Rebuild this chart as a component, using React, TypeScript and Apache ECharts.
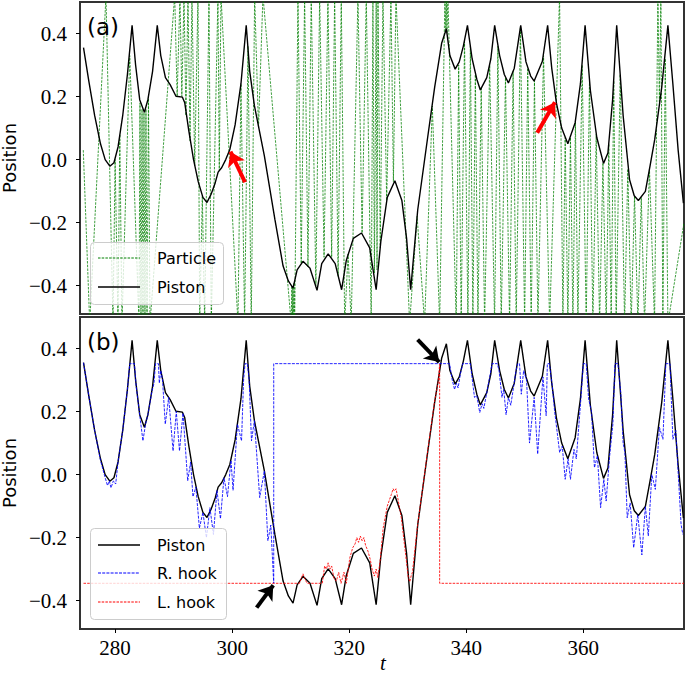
import React, { useEffect, useRef } from "react";
import * as echarts from "echarts";

const tTicks = [280, 300, 320, 340, 360];
const posTicks = [-0.4, -0.2, 0, 0.2, 0.4];
const T = 0.52;
const B = -0.52;

const piston: [number, number][] = [
  [274.6, 0.355], [275.5, 0.25], [276.5, 0.14], [277.5, 0.05], [278.3, 0.0], [279.1, -0.021],
  [279.8, -0.01], [280.5, 0.04], [281.3, 0.14], [282.1, 0.27], [282.9, 0.426], [283.5, 0.3],
  [284.2, 0.19], [285.0, 0.15], [285.6, 0.19], [286.4, 0.28], [287.2, 0.426], [287.8, 0.33],
  [288.6, 0.26], [289.4, 0.238], [290.4, 0.201], [291.5, 0.198], [291.9, 0.18], [292.6, 0.09],
  [293.4, 0.0], [294.2, -0.07], [295.0, -0.12], [295.7, -0.136], [296.4, -0.11], [297.1, -0.074],
  [297.6, -0.04], [298.2, -0.026], [298.9, 0.0], [299.6, 0.032], [300.5, 0.11], [301.5, 0.24],
  [302.4, 0.426], [303.0, 0.28], [303.8, 0.171], [305.5, 0.012], [307.3, -0.19], [308.7, -0.338],
  [309.6, -0.385], [310.4, -0.408], [311.1, -0.35], [312.1, -0.323], [313.3, -0.345], [314.5, -0.415],
  [315.3, -0.33], [316.4, -0.299], [317.6, -0.33], [318.7, -0.413], [319.5, -0.32], [320.7, -0.25],
  [322.1, -0.233], [323.5, -0.28], [324.6, -0.413], [325.4, -0.26], [326.5, -0.12], [327.8, -0.067],
  [329.0, -0.13], [329.8, -0.25], [330.5, -0.413], [331.7, -0.16], [333.4, 0.07], [334.6, 0.23],
  [335.2, 0.3], [335.8, 0.37], [336.6, 0.415], [337.2, 0.33], [338.1, 0.287], [338.8, 0.31],
  [339.5, 0.36], [340.2, 0.426], [341.0, 0.32], [341.8, 0.255], [342.4, 0.221], [343.5, 0.26],
  [344.2, 0.32], [344.85, 0.426], [345.7, 0.33], [346.5, 0.27], [347.2, 0.243], [348.2, 0.29],
  [349.3, 0.426], [350.2, 0.31], [351.0, 0.265], [351.6, 0.249], [353.0, 0.312], [353.9, 0.426],
  [354.6, 0.29], [355.4, 0.18], [356.3, 0.1], [357.35, 0.05], [358.6, 0.117], [359.5, 0.24],
  [360.3, 0.426], [361.2, 0.22], [362.3, 0.07], [363.45, -0.012], [364.2, 0.021], [365.0, 0.19],
  [365.7, 0.426], [366.8, 0.14], [367.9, -0.064], [368.7, -0.115], [369.4, -0.13], [370.6, -0.101],
  [371.4, -0.02], [372.2, 0.064], [373.4, 0.23], [374.45, 0.426], [375.3, 0.24], [376.2, 0.03],
  [377.1, -0.138],
];

const rHook: [number, number][] = [
  [274.6, 0.355], [275.5, 0.25], [276.5, 0.14], [277.5, 0.045], [278.3, -0.01], [278.7, -0.035],
  [279.0, -0.02], [279.3, -0.042], [279.7, -0.02], [280.1, -0.03], [280.5, 0.04], [281.3, 0.14],
  [282.1, 0.27], [282.5, 0.352], [283.3, 0.352], [283.6, 0.28], [284.2, 0.19], [284.75, 0.107],
  [285.2, 0.16], [285.6, 0.19], [286.3, 0.265], [286.65, 0.29], [286.9, 0.352], [287.4, 0.352],
  [287.55, 0.29], [287.8, 0.33], [288.1, 0.3], [288.57, 0.16], [289.15, 0.245], [289.9, 0.075],
  [290.45, 0.2], [291.0, 0.075], [291.6, 0.195], [292.4, -0.02], [292.9, 0.04], [293.3, -0.07],
  [293.8, -0.04], [294.4, -0.17], [295.0, -0.12], [295.6, -0.2], [296.2, -0.105], [296.8, -0.19],
  [297.4, -0.05], [298.0, -0.14], [298.6, -0.01], [299.2, -0.07], [299.8, 0.045], [300.15, -0.05],
  [300.9, 0.16], [301.6, 0.107], [301.95, 0.3], [302.2, 0.352], [302.6, 0.352], [302.9, 0.3],
  [303.3, 0.107], [303.8, 0.171], [304.7, -0.073], [305.5, 0.012], [306.1, -0.21], [306.6, -0.16],
  [307.1, -0.345], [307.1, 0.352], [335.45, 0.352], [337.15, 0.352], [337.6, 0.3], [338.0, 0.27],
  [338.3, 0.29], [338.6, 0.275], [339.0, 0.32], [339.4, 0.352], [340.7, 0.352], [341.4, 0.245],
  [341.8, 0.25], [342.3, 0.197], [342.7, 0.225], [343.0, 0.21], [343.6, 0.27], [344.1, 0.32],
  [344.4, 0.352], [345.3, 0.352], [345.6, 0.33], [346.1, 0.245], [346.4, 0.27], [346.8, 0.19],
  [347.2, 0.244], [347.6, 0.22], [348.1, 0.28], [348.5, 0.33], [348.8, 0.352], [349.1, 0.352],
  [349.4, 0.255], [349.8, 0.33], [350.3, 0.3], [350.8, 0.1], [351.6, 0.245], [352.2, 0.065],
  [353.1, 0.31], [353.65, 0.187], [353.85, 0.352], [354.2, 0.352], [354.7, 0.28], [355.1, 0.2],
  [355.95, 0.07], [356.4, 0.09], [356.9, -0.015], [357.4, 0.05], [357.8, -0.015], [358.4, 0.08],
  [358.8, 0.05], [359.6, 0.245], [360.0, 0.352], [360.5, 0.352], [360.9, 0.24], [361.4, 0.2],
  [361.9, 0.022], [362.4, 0.06], [362.95, -0.105], [363.5, -0.015], [363.9, -0.084], [364.5, 0.06],
  [365.05, 0.16], [365.4, 0.352], [365.9, 0.352], [366.4, 0.26], [366.8, 0.1], [367.1, 0.07],
  [367.5, -0.137], [368.0, -0.09], [368.6, -0.232], [369.3, -0.127], [370.0, -0.255], [370.6, -0.101],
  [371.1, -0.195], [371.7, 0.0], [372.3, -0.047], [373.0, 0.15], [373.6, 0.112], [374.1, 0.352],
  [374.8, 0.352], [375.3, 0.112], [375.8, 0.14], [376.7, -0.158], [377.0, -0.19],
];

const lHook: [number, number][] = [
  [274.6, -0.345], [311.5, -0.345], [311.8, -0.33], [312.1, -0.315], [312.4, -0.33], [312.8, -0.345],
  [315.4, -0.345], [315.8, -0.29], [316.1, -0.3], [316.4, -0.28], [316.7, -0.3], [317.0, -0.29],
  [317.4, -0.33], [317.8, -0.338], [318.2, -0.31], [318.6, -0.345], [319.1, -0.31], [319.5, -0.345],
  [320.1, -0.264], [320.6, -0.232], [321.0, -0.22], [321.3, -0.2], [321.6, -0.215], [321.9, -0.195],
  [322.2, -0.21], [322.5, -0.2], [322.8, -0.225], [323.2, -0.243], [323.6, -0.27], [323.9, -0.3],
  [324.3, -0.322], [324.6, -0.3], [324.9, -0.327], [325.3, -0.27], [325.8, -0.17], [326.5, -0.1],
  [327.2, -0.063], [327.5, -0.045], [327.7, -0.052], [328.0, -0.045], [328.3, -0.075], [328.9, -0.137],
  [329.5, -0.232], [330.1, -0.327], [330.35, -0.34], [330.6, -0.32], [330.8, -0.31], [331.7, -0.158],
  [332.5, -0.05], [333.4, 0.075], [334.6, 0.234], [335.2, 0.293], [335.45, 0.35], [335.45, -0.345],
  [377.2, -0.345],
];

const particle: [number, number][] = [
  [274.56, 0.03], [275.66, B], [278.44, T], [279.64, B], [280.0, 0.0], [280.49, B], [280.8, 0.08],
  [281.17, B], [282.5, 0.33], [284.08, B], [284.25, 0.18], [284.42, B], [284.6, 0.16], [284.76, B],
  [284.93, 0.15], [285.1, B], [285.27, 0.16], [285.45, B], [285.7, 0.2], [285.96, B], [290.18, T],
  [290.6, 0.2], [291.08, T], [291.4, 0.2], [291.77, T], [292.1, 0.14], [292.45, T], [292.8, 0.06],
  [293.13, T], [293.6, -0.02], [294.16, T], [294.45, B], [294.9, -0.115], [295.3, B], [296.04, T],
  [296.43, B], [297.57, T], [297.8, -0.035], [298.09, T], [300.99, B], [301.5, 0.24], [302.13, B],
  [302.7, 0.36], [303.26, B], [303.84, T], [304.5, 0.1], [305.26, T], [310.09, B], [310.2, -0.4],
  [310.3, B], [310.38, -0.405], [310.47, B], [310.58, -0.39], [310.68, B], [311.24, T], [311.8, -0.33],
  [312.38, T], [312.95, -0.34], [313.51, T], [314.3, -0.4], [314.95, T], [315.7, -0.31], [316.36, T],
  [317.0, -0.31], [317.51, T], [318.1, -0.37], [318.64, T], [319.22, B], [319.8, -0.3], [320.34, B],
  [321.49, T], [322.2, -0.233], [322.91, T], [323.76, B], [324.05, T], [324.3, -0.36], [324.61, T],
  [324.75, -0.35], [324.91, T], [325.3, -0.28], [325.76, T], [326.4, -0.13], [327.13, T],
  [327.55, -0.07], [327.98, T], [330.32, B], [331.6, -0.18], [332.88, B], [334.2, 0.17], [335.45, B],
  [336.35, T], [336.5, 0.41], [336.6, T], [336.7, 0.4], [336.86, T], [338.28, B], [338.7, 0.3],
  [339.13, B], [339.7, 0.38], [340.28, B], [340.7, 0.36], [341.13, B], [341.55, 0.27], [341.99, B],
  [342.55, 0.23], [343.13, B], [344.0, 0.3], [344.84, B], [345.4, 0.36], [345.97, B], [346.7, 0.26],
  [347.4, B], [348.0, 0.28], [348.53, B], [349.25, 0.42], [349.97, B], [350.5, 0.29], [351.09, B],
  [351.65, 0.25], [352.24, B], [353.2, 0.33], [354.24, B], [355.94, T], [356.51, B], [356.9, 0.07],
  [357.36, B], [357.8, 0.07], [358.22, B], [358.65, 0.12], [359.07, B], [359.8, 0.3], [360.49, B],
  [361.05, 0.25], [361.63, B], [362.2, 0.08], [362.78, B], [363.35, -0.01], [363.91, B], [364.35, 0.05],
  [364.76, B], [365.2, 0.25], [365.61, B], [366.3, 0.27], [367.05, B], [367.6, -0.03], [368.18, B],
  [368.75, -0.115], [369.32, B], [369.9, -0.12], [370.46, B], [371.3, -0.03], [372.17, B], [372.74, T],
  [373.0, 0.18], [373.25, T], [373.59, B], [374.0, 0.32], [374.45, B], [377.2, -0.2],
];

const redArrows = [
  [[302.19, -0.072], [299.71, 0.025]],
  [[352.12, 0.085], [355.14, 0.182]],
];
const blackArrows = [
  [[304.18, -0.422], [307.02, -0.351]],
  [[331.69, 0.428], [335.38, 0.357]],
];

const serif = "Liberation Serif";
const sans = "DejaVu Sans";

const fmt = (v: number) => {
  const a = Math.abs(v).toFixed(1);
  return v < -1e-9 ? "\u2212" + a : a;
};

function xAxisFor(grid: number, showLabels: boolean) {
  return {
    gridIndex: grid,
    type: "value",
    min: 274,
    max: 377.2,
    axisLine: { show: false, onZero: false },
    splitLine: { show: false },
    axisTick: {
      show: showLabels,
      customValues: tTicks,
      length: 4,
      inside: false,
      lineStyle: { color: "#000", width: 1 },
    },
    axisLabel: {
      show: showLabels,
      customValues: tTicks,
      fontFamily: serif,
      fontSize: 21,
      color: "#000",
      margin: 8,
    },
  };
}

function yAxisFor(grid: number) {
  return {
    gridIndex: grid,
    type: "value",
    min: -0.49,
    max: 0.5,
    axisLine: { show: false, onZero: false },
    splitLine: { show: false },
    axisTick: {
      show: true,
      customValues: posTicks,
      length: 4,
      inside: false,
      lineStyle: { color: "#000", width: 1 },
    },
    axisLabel: {
      customValues: posTicks,
      formatter: fmt,
      fontFamily: serif,
      fontSize: 21,
      color: "#000",
      margin: 13,
    },
    name: "Position",
    nameLocation: "middle",
    nameRotate: 90,
    nameGap: 54,
    nameTextStyle: { fontFamily: sans, fontSize: 18, color: "#000" },
  };
}

function arrowMark(arrows: number[][][], color: string) {
  return {
    silent: true,
    symbol: ["none", "arrow"],
    symbolSize: 14,
    label: { show: false },
    lineStyle: { color, width: 4, type: "solid" },
    emphasis: { disabled: true },
    data: arrows.map((a) => [{ coord: a[0] }, { coord: a[1] }]),
  };
}

function legendBox(x: number, y: number, w: number, h: number, items: { label: string; color: string; dash: number[] | null; y: number }[]) {
  const els: any[] = [
    {
      type: "rect",
      shape: { x, y, width: w, height: h, r: 4 },
      style: { fill: "rgba(255,255,255,0.8)", stroke: "#cccccc", lineWidth: 1 },
      z: 100,
    },
  ];
  items.forEach((it) => {
    els.push({
      type: "line",
      shape: { x1: 98, y1: it.y, x2: 140, y2: it.y },
      style: { stroke: it.color, lineWidth: it.dash ? 1 : 1.4, lineDash: it.dash || undefined },
      z: 101,
    });
    els.push({
      type: "text",
      style: {
        text: it.label,
        x: 157,
        y: it.y,
        verticalAlign: "middle",
        fontFamily: sans,
        fontSize: 16,
        fill: "#000",
      },
      z: 101,
    });
  });
  return els;
}

export default function App() {
  const ref = useRef<HTMLDivElement>(null);
  useEffect(() => {
    const chart = echarts.init(ref.current!, null, { renderer: "svg" });
    const gridBase = {
      left: 80,
      width: 604,
      height: 312,
      show: true,
      borderColor: "#333",
      borderWidth: 2,
      backgroundColor: "transparent",
      containLabel: false,
      outerBoundsMode: "none",
    };
    const option: any = {
      animation: false,
      backgroundColor: "#fff",
      grid: [
        { ...gridBase, top: 2 },
        { ...gridBase, top: 317 },
      ],
      xAxis: [xAxisFor(0, false), xAxisFor(1, true)],
      yAxis: [yAxisFor(0), yAxisFor(1)],
      series: [
        {
          name: "Particle",
          type: "line",
          xAxisIndex: 0,
          yAxisIndex: 0,
          data: particle,
          symbol: "none",
          showSymbol: false,
          lineStyle: { color: "#008000", width: 0.9, type: [2.5, 1.2], opacity: 0.85 },
          silent: true,
          z: 2,
        },
        {
          name: "Piston",
          type: "line",
          xAxisIndex: 0,
          yAxisIndex: 0,
          data: piston,
          symbol: "none",
          showSymbol: false,
          lineStyle: { color: "#000", width: 1.4 },
          silent: true,
          z: 3,
          markLine: arrowMark(redArrows, "#ff0000"),
        },
        {
          name: "Piston",
          type: "line",
          xAxisIndex: 1,
          yAxisIndex: 1,
          data: piston,
          symbol: "none",
          showSymbol: false,
          lineStyle: { color: "#000", width: 1.4 },
          silent: true,
          z: 2,
          markLine: arrowMark(blackArrows, "#000000"),
        },
        {
          name: "R. hook",
          type: "line",
          xAxisIndex: 1,
          yAxisIndex: 1,
          data: rHook,
          symbol: "none",
          showSymbol: false,
          lineStyle: { color: "#0000ff", width: 1, type: [3, 1.2], opacity: 0.85 },
          silent: true,
          z: 3,
        },
        {
          name: "L. hook",
          type: "line",
          xAxisIndex: 1,
          yAxisIndex: 1,
          data: lHook,
          symbol: "none",
          showSymbol: false,
          lineStyle: { color: "#ff0000", width: 1, type: [2.5, 1.2], opacity: 0.85 },
          silent: true,
          z: 4,
        },
      ],
      graphic: [
        { type: "text", style: { text: "(a)", x: 87, y: 27, verticalAlign: "middle", fontFamily: sans, fontSize: 23, fill: "#000" }, z: 100 },
        { type: "text", style: { text: "(b)", x: 87, y: 342, verticalAlign: "middle", fontFamily: sans, fontSize: 23, fill: "#000" }, z: 100 },
        { type: "text", style: { text: "t", x: 383, y: 663, align: "center", verticalAlign: "middle", fontFamily: serif, fontStyle: "italic", fontSize: 21, fill: "#000" }, z: 100 },
        ...legendBox(90.5, 242.5, 133, 62, [
          { label: "Particle", color: "#008000", dash: [2.5, 1.2], y: 258 },
          { label: "Piston", color: "#000", dash: null, y: 287 },
        ]),
        ...legendBox(90.5, 528.5, 136, 91, [
          { label: "Piston", color: "#000", dash: null, y: 545 },
          { label: "R. hook", color: "#0000ff", dash: [3, 1.2], y: 573 },
          { label: "L. hook", color: "#ff0000", dash: [2.5, 1.2], y: 602 },
        ]),
      ],
    };
    chart.setOption(option);
    return () => chart.dispose();
  }, []);
  return (
    <div
      ref={ref}
      style={{ position: "fixed", left: 0, top: 0, width: 685, height: 677, background: "#fff" }}
    />
  );
}
